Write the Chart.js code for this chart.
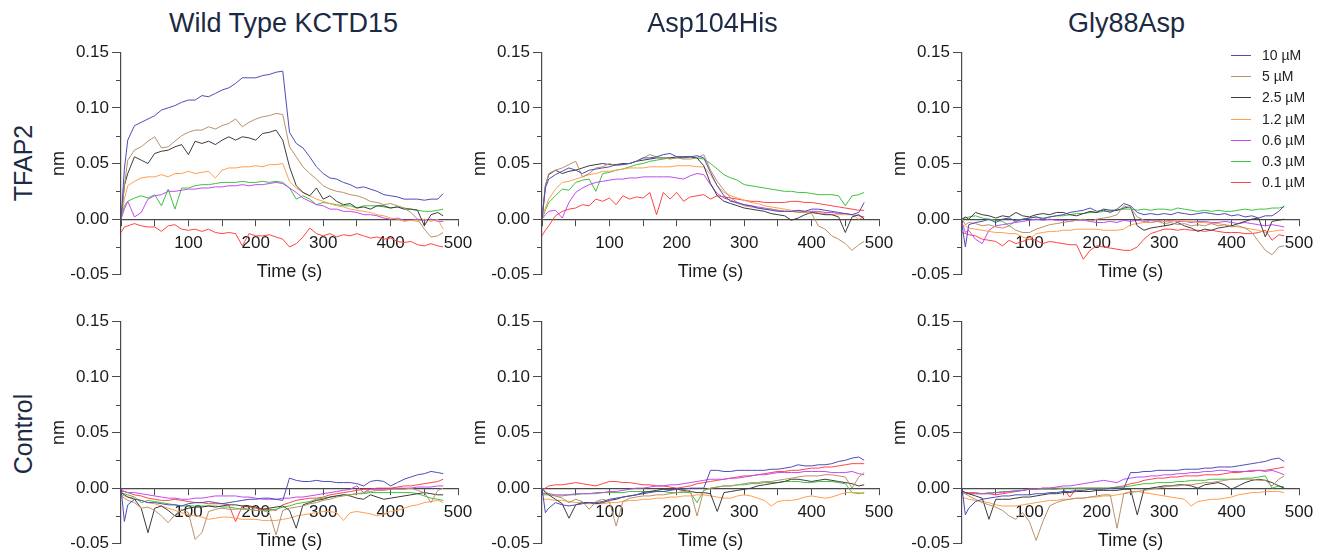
<!DOCTYPE html>
<html>
<head>
<meta charset="utf-8">
<script src="https://cdn.jsdelivr.net/npm/chart.js@4.4.0/dist/chart.umd.min.js"></script>
<style>
  body { margin: 0; background: #fff; width: 1323px; height: 553px; position: relative; overflow: hidden;
         font-family: 'Liberation Sans', Arial, sans-serif; }
  canvas { position: absolute; }
  .col-title { position: absolute; font-size: 27px; color: #1c2a44; line-height: 1; white-space: nowrap;
               transform: translate(-50%, -50%); }
  .row-title { position: absolute; font-size: 25px; color: #1c2a44; line-height: 1; white-space: nowrap;
               transform: translate(-50%, -50%) rotate(-90deg); }
  .legend-text { position: absolute; font-size: 14px; color: #222; line-height: 1; white-space: nowrap;
                 transform: translateY(-50%); }
  .legend-line { position: absolute; width: 20px; height: 1px; }
</style>
</head>
<body>
<script>
// sensorgram time points (s), shared by every trace
const TIME = [0, 5, 10,
  20, 30, 40, 50, 60, 70, 80, 90, 100, 110,
  120, 130, 140, 150, 160, 170, 180, 190, 200, 210,
  220, 230, 240, 250, 260, 270, 280, 290, 300, 310,
  320, 330, 340, 350, 360, 370, 380, 390, 400, 410,
  420, 430, 440, 450, 460, 470, 478];

const CONCENTRATIONS = ['10 µM', '5 µM', '2.5 µM', '1.2 µM', '0.6 µM', '0.3 µM', '0.1 µM'];
const COLORS = ['#4d4db8', '#b8916a', '#3c3c3c', '#ff9f4f', '#c24af2', '#3fc23f', '#ff4545'];
const COLUMN_TITLES = ['Wild Type KCTD15', 'Asp104His', 'Gly88Asp'];
const ROW_TITLES = ['TFAP2', 'Control'];
const Y_MINOR = [-0.025, 0.025, 0.075, 0.125];

// --- TFAP2, wild type ---
const wtT10 = [0, 0.045, 0.071,
  0.084, 0.087, 0.090, 0.093, 0.098, 0.100, 0.102, 0.105, 0.107, 0.107,
  0.111, 0.110, 0.113, 0.116, 0.118, 0.122, 0.127, 0.127, 0.127, 0.129,
  0.130, 0.132, 0.133, 0.078, 0.068, 0.064, 0.056, 0.047, 0.041, 0.037,
  0.036, 0.033, 0.031, 0.028, 0.029, 0.027, 0.025, 0.022, 0.021, 0.020,
  0.018, 0.018, 0.018, 0.017, 0.018, 0.018, 0.023];
const wtT5 = [0, 0.030, 0.053,
  0.062, 0.065, 0.070, 0.074, 0.064, 0.065, 0.070, 0.075, 0.078, 0.080,
  0.080, 0.083, 0.081, 0.084, 0.086, 0.090, 0.083, 0.087, 0.090, 0.092,
  0.093, 0.095, 0.094, 0.065, 0.056, 0.047, 0.041, 0.036, 0.030, 0.027,
  0.025, 0.024, 0.022, 0.021, 0.019, 0.016, 0.015, 0.013, 0.014, 0.012,
  0.010, 0.006, 0.000, -0.009, -0.016, -0.015, -0.012];
const wtT2_5 = [0, 0.030, 0.041,
  0.056, 0.053, 0.050, 0.059, 0.061, 0.062, 0.065, 0.067, 0.058, 0.070,
  0.068, 0.070, 0.067, 0.071, 0.074, 0.071, 0.074, 0.073, 0.071, 0.077,
  0.078, 0.080, 0.071, 0.047, 0.030, 0.024, 0.021, 0.028, 0.018, 0.021,
  0.016, 0.013, 0.014, 0.010, 0.011, 0.009, 0.012, 0.012, 0.010, 0.011,
  0.009, 0.009, 0.008, -0.006, 0.004, 0.006, 0.003];
const wtT1_2 = [0, 0.018, 0.030,
  0.034, 0.037, 0.038, 0.038, 0.040, 0.038, 0.041, 0.041, 0.043, 0.041,
  0.042, 0.043, 0.037, 0.044, 0.046, 0.046, 0.047, 0.047, 0.048, 0.047,
  0.049, 0.049, 0.050, 0.034, 0.028, 0.024, 0.021, 0.018, 0.016, 0.014,
  0.012, 0.011, 0.009, 0.008, 0.007, 0.006, 0.004, 0.003, 0.001, 0.000,
  -0.002, -0.001, -0.002, 0.000, -0.002, 0.000, -0.009];
const wtT0_6 = [0, 0.009, 0.016,
  0.002, 0.006, 0.018, 0.021, 0.022, 0.025, 0.025, 0.026, 0.027, 0.027,
  0.028, 0.028, 0.029, 0.029, 0.030, 0.030, 0.031, 0.030, 0.031, 0.031,
  0.032, 0.033, 0.032, 0.028, 0.024, 0.019, 0.016, 0.013, 0.012, 0.009,
  0.009, 0.007, 0.007, 0.006, 0.004, 0.004, 0.003, 0.001, 0.000, 0.001,
  -0.001, -0.001, 0.000, -0.001, 0.000, -0.002, -0.002];
const wtT0_3 = [0, 0.012, 0.016,
  0.019, 0.021, 0.019, 0.022, 0.012, 0.027, 0.009, 0.028, 0.028, 0.030,
  0.031, 0.031, 0.032, 0.033, 0.033, 0.033, 0.034, 0.033, 0.033, 0.034,
  0.033, 0.034, 0.033, 0.028, 0.018, 0.021, 0.018, 0.013, 0.015, 0.014,
  0.013, 0.012, 0.012, 0.010, 0.012, 0.012, 0.012, 0.011, 0.010, 0.011,
  0.010, 0.009, 0.008, 0.007, 0.007, 0.008, 0.009];
const wtT0_1 = [-0.012, -0.007, -0.006,
  -0.004, -0.006, -0.007, -0.007, -0.011, -0.006, -0.005, -0.009, -0.010, -0.009,
  -0.011, -0.009, -0.012, -0.013, -0.012, -0.013, -0.024, -0.013, -0.015, -0.015,
  -0.014, -0.016, -0.018, -0.025, -0.022, -0.016, -0.008, -0.013, -0.015, -0.013,
  -0.016, -0.014, -0.015, -0.013, -0.015, -0.017, -0.016, -0.018, -0.017, -0.020,
  -0.021, -0.020, -0.023, -0.024, -0.022, -0.024, -0.025];

// --- TFAP2, Asp104His ---
const dT10 = [0, 0.028, 0.036,
  0.040, 0.043, 0.046, 0.044, 0.041, 0.044, 0.045, 0.046, 0.047, 0.049,
  0.049, 0.050, 0.052, 0.055, 0.055, 0.056, 0.058, 0.059, 0.056, 0.055,
  0.056, 0.057, 0.055, 0.042, 0.030, 0.021, 0.016, 0.015, 0.013, 0.012,
  0.010, 0.009, 0.008, 0.007, 0.007, 0.007, 0.008, 0.007, 0.009, 0.009,
  0.008, 0.007, 0.006, 0.005, 0.004, 0.006, 0.015];
const dT5 = [0, 0.030, 0.041,
  0.044, 0.046, 0.049, 0.052, 0.038, 0.041, 0.046, 0.047, 0.050, 0.048,
  0.049, 0.050, 0.052, 0.055, 0.058, 0.056, 0.055, 0.054, 0.055, 0.054,
  0.054, 0.055, 0.058, 0.044, 0.034, 0.026, 0.019, 0.015, 0.012, 0.011,
  0.010, 0.009, 0.009, 0.008, 0.007, 0.007, 0.006, 0.006, 0.005, -0.006,
  -0.009, -0.015, -0.018, -0.022, -0.028, -0.023, -0.020];
const dT2_5 = [0, 0.030, 0.040,
  0.044, 0.041, 0.043, 0.044, 0.046, 0.048, 0.049, 0.050, 0.049, 0.049,
  0.050, 0.050, 0.052, 0.053, 0.054, 0.055, 0.055, 0.055, 0.056, 0.056,
  0.056, 0.055, 0.048, 0.032, 0.021, 0.016, 0.014, 0.012, 0.010, 0.009,
  0.008, 0.007, 0.005, 0.004, 0.003, -0.001, 0.001, 0.004, 0.006, 0.005,
  0.004, 0.004, 0.002, -0.012, 0.002, 0.004, 0.000];
const dT1_2 = [0, 0.010, 0.018,
  0.027, 0.033, 0.034, 0.036, 0.038, 0.040, 0.041, 0.043, 0.043, 0.044,
  0.045, 0.046, 0.046, 0.046, 0.047, 0.047, 0.047, 0.047, 0.048, 0.048,
  0.048, 0.047, 0.047, 0.040, 0.030, 0.024, 0.021, 0.019, 0.017, 0.015,
  0.014, 0.012, 0.011, 0.010, 0.009, 0.008, 0.007, 0.007, 0.006, 0.006,
  0.005, 0.004, 0.004, 0.004, 0.004, 0.000, 0.002];
const dT0_6 = [0, 0.004, 0.007,
  0.008, 0.001, 0.015, 0.024, 0.028, 0.031, 0.033, 0.034, 0.035, 0.036,
  0.036, 0.037, 0.037, 0.038, 0.038, 0.038, 0.038, 0.038, 0.037, 0.036,
  0.039, 0.041, 0.040, 0.031, 0.023, 0.019, 0.017, 0.014, 0.013, 0.012,
  0.011, 0.010, 0.009, 0.008, 0.007, 0.007, 0.007, 0.007, 0.007, 0.007,
  0.006, 0.006, 0.005, 0.005, 0.004, 0.003, 0.002];
const dT0_3 = [0, 0.008, 0.015,
  0.021, 0.027, 0.026, 0.033, 0.035, 0.036, 0.025, 0.041, 0.042, 0.044,
  0.045, 0.047, 0.049, 0.050, 0.052, 0.053, 0.054, 0.055, 0.055, 0.056,
  0.056, 0.055, 0.054, 0.050, 0.045, 0.040, 0.037, 0.035, 0.031, 0.030,
  0.029, 0.028, 0.027, 0.026, 0.025, 0.025, 0.024, 0.024, 0.023, 0.022,
  0.022, 0.022, 0.021, 0.012, 0.021, 0.022, 0.024];
const dT0_1 = [-0.015, -0.010, -0.006,
  0.003, 0.007, 0.009, 0.010, 0.013, 0.012, 0.018, 0.016, 0.019, 0.013,
  0.021, 0.018, 0.020, 0.019, 0.024, 0.004, 0.024, 0.018, 0.024, 0.016,
  0.020, 0.021, 0.022, 0.018, 0.021, 0.020, 0.019, 0.018, 0.017, 0.016,
  0.016, 0.015, 0.015, 0.015, 0.015, 0.016, 0.016, 0.015, 0.015, 0.014,
  0.013, 0.012, 0.011, 0.010, 0.009, 0.008, 0.008];

// --- TFAP2, Gly88Asp ---
const gT10 = [-0.005, -0.025, -0.005,
  -0.003, -0.002, 0.000, -0.003, 0.000, 0.001, -0.002, 0.000, 0.001, 0.002,
  0.000, 0.002, 0.003, 0.004, 0.006, 0.007, 0.008, 0.010, 0.007, 0.008,
  0.006, 0.009, 0.014, 0.012, 0.006, 0.004, 0.005, 0.004, 0.005, 0.004,
  0.006, 0.005, 0.004, 0.005, 0.006, 0.005, 0.004, 0.005, 0.003, 0.004,
  0.002, 0.003, 0.001, 0.003, 0.003, 0.007, 0.012];
const gT5 = [0, -0.005, -0.003,
  -0.004, -0.006, -0.005, -0.007, -0.008, -0.006, -0.010, -0.012, -0.012, -0.009,
  -0.007, -0.005, -0.004, -0.003, -0.002, -0.001, 0.000, -0.002, 0.000, 0.001,
  0.002, 0.004, 0.012, 0.010, 0.002, -0.001, -0.003, -0.002, -0.004, -0.003,
  -0.005, -0.004, -0.006, -0.005, -0.006, -0.004, -0.006, -0.005, -0.007, -0.006,
  -0.008, -0.012, -0.020, -0.028, -0.032, -0.025, -0.024];
const gT2_5 = [0, 0.002, 0.000,
  0.006, 0.004, 0.003, 0.001, 0.003, 0.002, 0.006, 0.003, 0.002, 0.004,
  0.005, 0.004, 0.006, 0.006, 0.004, 0.003, 0.005, 0.007, 0.006, 0.009,
  0.008, 0.008, 0.010, 0.011, -0.006, -0.010, -0.008, -0.007, -0.006, -0.005,
  -0.003, -0.006, -0.008, -0.011, -0.009, -0.010, -0.008, -0.007, -0.006, -0.004,
  -0.002, 0.000, 0.001, -0.016, -0.002, -0.001, 0.000];
const gT1_2 = [-0.006, -0.006, -0.008,
  -0.009, -0.010, -0.011, -0.012, -0.012, -0.013, -0.013, -0.016, -0.018, -0.013,
  -0.012, -0.011, -0.011, -0.010, -0.010, -0.009, -0.009, -0.009, -0.009, -0.010,
  -0.010, -0.010, -0.009, -0.005, -0.004, -0.003, -0.003, -0.002, -0.002, -0.002,
  -0.001, -0.002, -0.002, -0.003, -0.003, -0.004, -0.004, -0.005, -0.006, -0.007,
  -0.008, -0.009, -0.010, -0.012, -0.011, -0.010, -0.010];
const gT0_6 = [-0.003, -0.012, -0.010,
  -0.018, -0.022, -0.010, -0.006, -0.005, -0.004, -0.003, -0.002, -0.001, 0.000,
  -0.001, 0.000, -0.001, -0.001, -0.002, -0.001, -0.001, -0.002, -0.003, -0.003,
  -0.002, -0.003, -0.001, -0.002, -0.001, -0.002, -0.001, -0.001, -0.002, -0.001,
  -0.002, -0.002, -0.003, -0.002, -0.002, -0.003, -0.003, -0.002, -0.003, -0.004,
  -0.003, -0.004, -0.005, -0.006, -0.005, -0.006, -0.007];
const gT0_3 = [0, 0.001, 0.002,
  0.003, 0.001, 0.000, -0.001, -0.002, -0.006, -0.001, 0.000, 0.001, 0.002,
  0.001, 0.002, 0.003, 0.003, 0.004, 0.005, 0.005, 0.006, 0.006, 0.007,
  0.007, 0.008, 0.009, 0.009, 0.008, 0.009, 0.008, 0.009, 0.009, 0.008,
  0.010, 0.009, 0.008, 0.007, 0.008, 0.007, 0.008, 0.007, 0.007, 0.008,
  0.009, 0.008, 0.009, 0.009, 0.010, 0.010, 0.011];
const gT0_1 = [-0.012, -0.013, -0.014,
  -0.015, -0.018, -0.019, -0.020, -0.024, -0.019, -0.022, -0.020, -0.018, -0.019,
  -0.022, -0.020, -0.021, -0.022, -0.023, -0.023, -0.036, -0.028, -0.024, -0.025,
  -0.026, -0.027, -0.028, -0.028, -0.025, -0.018, -0.013, -0.011, -0.009, -0.009,
  -0.010, -0.009, -0.010, -0.010, -0.011, -0.010, -0.011, -0.012, -0.012, -0.012,
  -0.013, -0.013, -0.012, -0.010, -0.019, -0.014, -0.015];

// --- Control, wild type ---
const wtC10 = [0, -0.030, -0.015,
  -0.010, -0.011, -0.013, -0.013, -0.014, -0.015, -0.015, -0.016, -0.014, -0.013,
  -0.013, -0.012, -0.013, -0.014, -0.013, -0.012, -0.011, -0.010, -0.010, -0.009,
  -0.009, -0.010, -0.011, 0.009, 0.007, 0.006, 0.006, 0.007, 0.006, 0.006,
  0.005, 0.005, 0.005, 0.004, 0.002, 0.006, 0.007, 0.006, 0.002, 0.005,
  0.008, 0.010, 0.012, 0.013, 0.015, 0.014, 0.013];
const wtC5 = [-0.007, -0.009, -0.011,
  -0.013, -0.018, -0.017, -0.020, -0.025, -0.031, -0.024, -0.019, -0.022, -0.046,
  -0.040, -0.021, -0.019, -0.018, -0.019, -0.019, -0.018, -0.019, -0.020, -0.020,
  -0.022, -0.042, -0.020, -0.018, -0.017, -0.016, -0.014, -0.013, -0.011, -0.010,
  -0.008, -0.007, -0.006, -0.005, -0.004, -0.003, -0.002, -0.002, -0.001, -0.001,
  -0.001, 0.000, -0.002, -0.004, -0.013, -0.002, 0.000];
const wtC2_5 = [-0.004, -0.006, -0.008,
  -0.010, -0.018, -0.040, -0.018, -0.016, -0.020, -0.025, -0.020, -0.018, -0.017,
  -0.017, -0.016, -0.017, -0.016, -0.015, -0.015, -0.016, -0.016, -0.017, -0.019,
  -0.018, -0.017, -0.016, -0.020, -0.036, -0.015, -0.013, -0.011, -0.010, -0.008,
  -0.007, -0.006, -0.007, -0.009, -0.010, -0.006, -0.008, -0.010, -0.009, -0.008,
  -0.007, -0.006, -0.005, -0.004, -0.005, -0.006, -0.006];
const wtC1_2 = [-0.006, -0.007, -0.008,
  -0.009, -0.011, -0.013, -0.014, -0.016, -0.018, -0.020, -0.022, -0.024, -0.025,
  -0.026, -0.028, -0.027, -0.026, -0.026, -0.027, -0.028, -0.028, -0.028, -0.029,
  -0.029, -0.029, -0.028, -0.027, -0.025, -0.024, -0.023, -0.022, -0.021, -0.021,
  -0.022, -0.029, -0.022, -0.021, -0.022, -0.023, -0.025, -0.023, -0.021, -0.020,
  -0.018, -0.016, -0.015, -0.013, -0.012, -0.011, -0.013];
const wtC0_6 = [-0.003, -0.003, -0.004,
  -0.004, -0.005, -0.006, -0.007, -0.008, -0.009, -0.009, -0.010, -0.010, -0.009,
  -0.009, -0.008, -0.007, -0.007, -0.007, -0.007, -0.008, -0.008, -0.009, -0.010,
  -0.010, -0.010, -0.009, -0.009, -0.008, -0.008, -0.007, -0.006, -0.005, -0.004,
  -0.003, -0.002, -0.001, 0.002, -0.004, -0.001, -0.001, -0.001, -0.001, 0.000,
  0.000, 0.000, 0.001, 0.001, 0.001, 0.002, 0.002];
const wtC0_3 = [-0.004, -0.005, -0.006,
  -0.008, -0.013, -0.011, -0.012, -0.013, -0.014, -0.015, -0.016, -0.016, -0.016,
  -0.016, -0.016, -0.016, -0.017, -0.017, -0.018, -0.019, -0.019, -0.020, -0.020,
  -0.020, -0.019, -0.017, -0.016, -0.014, -0.013, -0.012, -0.010, -0.009, -0.008,
  -0.007, -0.006, -0.006, -0.005, -0.005, -0.004, -0.004, -0.004, -0.004, -0.004,
  -0.004, -0.004, -0.005, -0.007, -0.009, -0.010, -0.011];
const wtC0_1 = [-0.001, -0.003, -0.004,
  -0.006, -0.007, -0.009, -0.010, -0.011, -0.011, -0.010, -0.011, -0.012, -0.013,
  -0.013, -0.014, -0.014, -0.014, -0.015, -0.030, -0.016, -0.017, -0.018, -0.019,
  -0.019, -0.020, -0.015, -0.013, -0.011, -0.010, -0.009, -0.009, -0.008, -0.006,
  -0.005, -0.004, -0.003, -0.002, -0.001, -0.001, 0.000, 0.000, 0.000, 0.001,
  0.002, 0.002, 0.003, 0.004, 0.005, 0.006, 0.008];

// --- Control, Asp104His ---
const dC10 = [0, -0.022, -0.018,
  -0.013, -0.015, -0.016, -0.015, -0.014, -0.013, -0.013, -0.012, -0.010, -0.009,
  -0.008, -0.007, -0.006, -0.005, -0.004, -0.003, -0.003, -0.002, -0.001, -0.001,
  0.000, 0.000, 0.000, 0.016, 0.016, 0.015, 0.015, 0.016, 0.016, 0.016,
  0.016, 0.016, 0.017, 0.017, 0.018, 0.019, 0.021, 0.020, 0.020, 0.021,
  0.021, 0.022, 0.024, 0.025, 0.027, 0.028, 0.025];
const dC5 = [0, -0.003, -0.005,
  -0.007, -0.009, -0.013, -0.010, -0.012, -0.019, -0.012, -0.010, -0.012, -0.034,
  -0.012, -0.009, -0.008, -0.007, -0.007, -0.006, -0.006, -0.005, -0.004, -0.003,
  -0.002, -0.025, -0.002, 0.000, 0.001, 0.002, 0.002, 0.003, 0.004, 0.005,
  0.005, 0.006, 0.006, 0.007, 0.008, 0.009, 0.010, 0.011, 0.011, 0.011,
  0.012, 0.012, 0.011, 0.010, 0.000, 0.010, 0.014];
const dC2_5 = [0, -0.004, -0.006,
  -0.010, -0.014, -0.027, -0.015, -0.013, -0.013, -0.014, -0.013, -0.011, -0.010,
  -0.008, -0.007, -0.006, -0.004, -0.003, -0.002, -0.001, -0.001, -0.001, -0.002,
  -0.003, -0.004, -0.004, -0.005, -0.021, -0.004, -0.003, -0.002, -0.001, 0.000,
  0.002, 0.003, 0.004, 0.005, 0.006, 0.008, 0.008, 0.007, 0.006, 0.007,
  0.008, 0.007, 0.006, 0.005, 0.004, 0.002, 0.003];
const dC1_2 = [-0.010, -0.010, -0.010,
  -0.011, -0.011, -0.012, -0.013, -0.013, -0.014, -0.014, -0.014, -0.013, -0.013,
  -0.012, -0.011, -0.011, -0.010, -0.010, -0.009, -0.009, -0.008, -0.008, -0.007,
  -0.007, -0.006, -0.006, -0.007, -0.008, -0.009, -0.009, -0.007, -0.006, -0.007,
  -0.009, -0.011, -0.016, -0.012, -0.011, -0.011, -0.010, -0.008, -0.007, -0.008,
  -0.009, -0.008, -0.006, -0.004, -0.004, -0.004, -0.005];
const dC0_6 = [-0.004, -0.005, -0.005,
  -0.006, -0.006, -0.006, -0.005, -0.005, -0.005, -0.004, -0.004, -0.003, -0.003,
  -0.002, -0.001, 0.000, 0.000, 0.001, 0.002, 0.002, 0.003, 0.003, 0.004,
  0.005, 0.006, 0.007, 0.008, 0.008, 0.008, 0.009, 0.009, 0.010, 0.011,
  0.012, 0.012, 0.013, 0.014, 0.014, 0.014, 0.014, 0.015, 0.015, 0.015,
  0.015, 0.014, 0.014, 0.014, 0.015, 0.013, 0.012];
const dC0_3 = [-0.006, -0.006, -0.006,
  -0.007, -0.007, -0.006, -0.006, -0.005, -0.005, -0.005, -0.004, -0.004, -0.004,
  -0.004, -0.003, -0.003, -0.003, -0.003, -0.003, -0.003, -0.004, -0.004, -0.004,
  -0.004, -0.013, -0.002, 0.000, 0.001, 0.002, 0.002, 0.003, 0.003, 0.004,
  0.004, 0.005, 0.005, 0.005, 0.006, 0.006, 0.006, 0.005, 0.005, 0.006,
  0.006, 0.006, 0.005, 0.004, -0.004, -0.005, -0.004];
const dC0_1 = [-0.002, 0.000, 0.002,
  0.003, 0.003, 0.004, 0.005, 0.004, 0.003, 0.002, 0.004, 0.006, 0.006,
  0.005, 0.005, 0.004, 0.003, 0.003, 0.002, 0.002, 0.001, 0.000, 0.001,
  0.002, 0.004, 0.005, 0.006, 0.007, 0.008, 0.009, 0.010, 0.011, 0.011,
  0.012, 0.013, 0.014, 0.015, 0.015, 0.016, 0.016, 0.017, 0.018, 0.018,
  0.019, 0.019, 0.020, 0.021, 0.022, 0.022, 0.022];

// --- Control, Gly88Asp ---
const gC10 = [0, -0.024, -0.018,
  -0.012, -0.010, -0.009, -0.008, -0.007, -0.007, -0.006, -0.006, -0.006, -0.005,
  -0.005, -0.004, -0.004, -0.003, -0.003, -0.002, -0.002, -0.001, -0.001, -0.001,
  0.000, 0.000, 0.000, 0.014, 0.014, 0.015, 0.015, 0.016, 0.016, 0.016,
  0.016, 0.017, 0.017, 0.017, 0.018, 0.018, 0.019, 0.019, 0.019, 0.020,
  0.021, 0.022, 0.023, 0.024, 0.026, 0.027, 0.024];
const gC5 = [-0.003, -0.005, -0.007,
  -0.010, -0.013, -0.015, -0.017, -0.020, -0.025, -0.028, -0.022, -0.030, -0.047,
  -0.030, -0.016, -0.013, -0.011, -0.010, -0.009, -0.009, -0.008, -0.007, -0.006,
  -0.006, -0.036, -0.005, -0.004, -0.003, -0.002, -0.001, 0.000, 0.001, 0.002,
  0.002, 0.003, 0.003, 0.004, 0.005, 0.005, 0.006, 0.007, 0.008, 0.008,
  0.008, 0.008, 0.007, 0.007, 0.002, 0.008, 0.011];
const gC2_5 = [-0.002, -0.004, -0.005,
  -0.007, -0.009, -0.028, -0.010, -0.010, -0.010, -0.009, -0.008, -0.008, -0.007,
  -0.006, -0.005, -0.005, -0.004, -0.004, -0.003, -0.003, -0.003, -0.002, -0.002,
  -0.002, -0.002, -0.001, -0.001, -0.024, -0.001, 0.000, 0.001, 0.002, 0.002,
  0.003, 0.003, 0.002, 0.000, 0.003, 0.004, 0.005, 0.003, -0.001, 0.002,
  0.005, 0.007, 0.008, 0.007, 0.005, 0.002, 0.000];
const gC1_2 = [-0.009, -0.009, -0.010,
  -0.011, -0.012, -0.013, -0.015, -0.016, -0.016, -0.016, -0.015, -0.014, -0.013,
  -0.012, -0.011, -0.011, -0.010, -0.010, -0.009, -0.009, -0.008, -0.008, -0.007,
  -0.007, -0.006, -0.005, -0.003, -0.003, -0.004, -0.005, -0.006, -0.007, -0.008,
  -0.009, -0.010, -0.016, -0.012, -0.011, -0.010, -0.010, -0.009, -0.008, -0.006,
  -0.005, -0.004, -0.004, -0.003, -0.003, -0.003, -0.004];
const gC0_6 = [-0.004, -0.004, -0.005,
  -0.005, -0.005, -0.005, -0.004, -0.004, -0.003, -0.003, -0.002, -0.001, -0.001,
  0.000, 0.000, 0.001, 0.002, 0.002, 0.003, 0.004, 0.005, 0.006, 0.007,
  0.006, 0.005, 0.008, 0.009, 0.010, 0.010, 0.011, 0.011, 0.012, 0.012,
  0.013, 0.013, 0.014, 0.014, 0.015, 0.015, 0.016, 0.016, 0.015, 0.015,
  0.015, 0.016, 0.016, 0.015, 0.016, 0.014, 0.012];
const gC0_3 = [-0.004, -0.005, -0.005,
  -0.005, -0.005, -0.004, -0.004, -0.003, -0.003, -0.002, -0.002, -0.001, -0.001,
  -0.001, -0.001, -0.001, 0.000, 0.000, 0.000, 0.000, 0.000, 0.000, 0.000,
  0.000, 0.001, 0.001, 0.002, 0.003, 0.004, 0.004, 0.005, 0.005, 0.005,
  0.006, 0.006, 0.007, 0.007, 0.007, 0.008, 0.008, 0.008, 0.008, 0.008,
  0.009, 0.009, 0.010, 0.011, 0.000, 0.002, 0.001];
const gC0_1 = [-0.003, -0.004, -0.004,
  -0.004, -0.005, -0.005, -0.006, -0.005, -0.004, -0.003, -0.002, -0.001, -0.001,
  0.000, 0.000, 0.000, 0.000, -0.008, 0.000, 0.000, 0.000, 0.000, 0.000,
  0.000, 0.001, 0.002, 0.004, 0.005, 0.007, 0.008, 0.009, 0.009, 0.010,
  0.010, 0.011, 0.011, 0.011, 0.012, 0.012, 0.012, 0.013, 0.014, 0.014,
  0.015, 0.015, 0.016, 0.016, 0.017, 0.018, 0.019];

const PANELS = [
  { col: 0, row: 0, series: [wtT10, wtT5, wtT2_5, wtT1_2, wtT0_6, wtT0_3, wtT0_1] },
  { col: 1, row: 0, series: [dT10, dT5, dT2_5, dT1_2, dT0_6, dT0_3, dT0_1] },
  { col: 2, row: 0, series: [gT10, gT5, gT2_5, gT1_2, gT0_6, gT0_3, gT0_1] },
  { col: 0, row: 1, series: [wtC10, wtC5, wtC2_5, wtC1_2, wtC0_6, wtC0_3, wtC0_1] },
  { col: 1, row: 1, series: [dC10, dC5, dC2_5, dC1_2, dC0_6, dC0_3, dC0_1] },
  { col: 2, row: 1, series: [gC10, gC5, gC2_5, gC1_2, gC0_6, gC0_3, gC0_1] }
];

// layout of the grid (page pixels)
const AXIS_X = [121, 542, 962];     // x of the y axis in each column
const PLOT_TOP = [51, 320];         // y of 0.15 in each row
const PLOT_W = 337, PLOT_H = 225;
const Y_AXIS_W = 80, PAD_T = 12, PAD_B = 12, PAD_R = 25;
const AXIS_COLOR = '#4a4a4a';
const TEXT_COLOR = '#1a1a1a';

Chart.defaults.font.family = "'Liberation Sans', Arial, sans-serif";
Chart.defaults.color = TEXT_COLOR;

// short ticks between the labelled ones on the y axis
const minorTicks = {
  id: 'minorTicks',
  afterDraw(chart) {
    const y = chart.scales.y;
    const ctx = chart.ctx;
    ctx.save();
    ctx.strokeStyle = AXIS_COLOR;
    ctx.lineWidth = 1;
    Y_MINOR.forEach(function(v) {
      const py = Math.round(y.getPixelForValue(v)) + 0.5;
      ctx.beginPath();
      ctx.moveTo(y.right - 5, py);
      ctx.lineTo(y.right, py);
      ctx.stroke();
    });
    ctx.restore();
  }
};

PANELS.forEach(function(p) {
  const canvas = document.createElement('canvas');
  const w = Y_AXIS_W + PLOT_W + PAD_R;
  const h = PAD_T + PLOT_H + PAD_B;
  canvas.width = w;
  canvas.height = h;
  canvas.style.left = (AXIS_X[p.col] - Y_AXIS_W) + 'px';
  canvas.style.top = (PLOT_TOP[p.row] - PAD_T) + 'px';
  canvas.style.width = w + 'px';
  canvas.style.height = h + 'px';
  document.body.appendChild(canvas);

  new Chart(canvas.getContext('2d'), {
    type: 'line',
    data: {
      datasets: p.series.map(function(vals, i) {
        return {
          label: CONCENTRATIONS[i],
          data: TIME.map(function(t, k) { return { x: t, y: vals[k] }; }),
          borderColor: COLORS[i],
          borderWidth: 1,
          pointRadius: 0,
          tension: 0,
          fill: false
        };
      })
    },
    options: {
      responsive: false,
      animation: false,
      events: [],
      layout: { padding: { top: PAD_T, bottom: PAD_B, right: PAD_R, left: 0 } },
      plugins: { legend: { display: false }, tooltip: { enabled: false } },
      scales: {
        x: {
          type: 'linear',
          min: 0,
          max: 500,
          position: { y: 0 },
          border: { color: AXIS_COLOR, width: 1.2 },
          grid: { drawOnChartArea: false, drawTicks: true, tickLength: 6, color: AXIS_COLOR },
          ticks: {
            stepSize: 50,
            autoSkip: false,
            maxRotation: 0,
            padding: 8,
            font: { size: 17 },
            callback: function(v) { return (v > 0 && v % 100 === 0) ? String(v) : ''; }
          },
          title: { display: true, text: 'Time (s)', font: { size: 18 }, padding: { top: 0, bottom: 0 } }
        },
        y: {
          min: -0.05,
          max: 0.15,
          afterFit: function(s) { s.width = Y_AXIS_W; },
          border: { color: AXIS_COLOR, width: 1.2 },
          grid: { drawOnChartArea: false, drawTicks: true, tickLength: 9, color: AXIS_COLOR },
          ticks: {
            stepSize: 0.05,
            autoSkip: false,
            padding: 3,
            font: { size: 17 },
            callback: function(v) { return v.toFixed(2); }
          },
          title: { display: true, text: 'nm', font: { size: 18 }, padding: { top: 7, bottom: 0 } }
        }
      }
    },
    plugins: [minorTicks]
  });
});

// column titles and row labels
const COL_CENTER = [283.5, 712.5, 1126.5];
COLUMN_TITLES.forEach(function(t, i) {
  const d = document.createElement('div');
  d.className = 'col-title';
  d.textContent = t;
  d.style.left = COL_CENTER[i] + 'px';
  d.style.top = '22.5px';
  document.body.appendChild(d);
});
const ROW_CENTER = [163, 434];
ROW_TITLES.forEach(function(t, i) {
  const d = document.createElement('div');
  d.className = 'row-title';
  d.textContent = t;
  d.style.left = '23px';
  d.style.top = ROW_CENTER[i] + 'px';
  document.body.appendChild(d);
});

// legend, top right panel
CONCENTRATIONS.forEach(function(label, i) {
  const y = Math.round(55 + i * 21.2);
  const line = document.createElement('div');
  line.className = 'legend-line';
  line.style.left = '1231px';
  line.style.top = y + 'px';
  line.style.background = COLORS[i];
  document.body.appendChild(line);
  const d = document.createElement('div');
  d.className = 'legend-text';
  d.style.left = '1262px';
  d.style.top = y + 'px';
  d.textContent = label;
  document.body.appendChild(d);
});
</script>
</body>
</html>
